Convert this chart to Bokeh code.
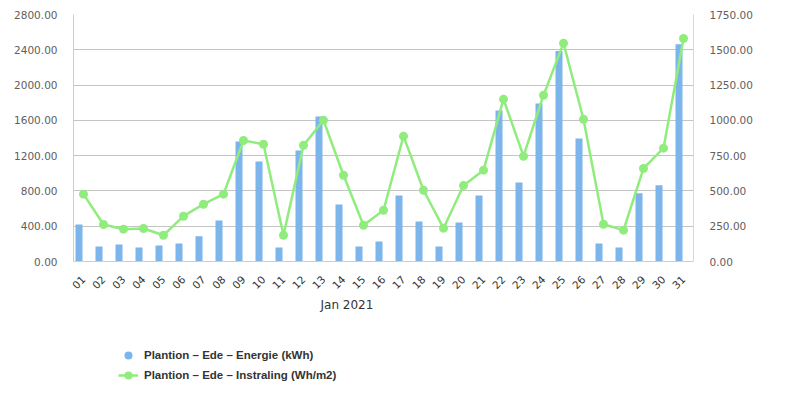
import math
from bokeh.plotting import figure
from bokeh.layouts import column
from bokeh.models import (Range1d, LinearAxis, FixedTicker, NumeralTickFormatter,
                          Legend, LegendItem, Title, ColumnDataSource)
from bokeh.transform import dodge
from bokeh.embed import file_html
from bokeh.resources import INLINE

days = ["01", "02", "03", "04", "05", "06", "07", "08", "09", "10", "11", "12", "13", "14", "15", "16",
        "17", "18", "19", "20", "21", "22", "23", "24", "25", "26", "27", "28", "29", "30", "31"]
energie = [420, 170, 193, 159, 181, 204, 285, 465, 1360, 1134, 160, 1259, 1644, 646, 170, 227,
           748, 454, 170, 442, 748, 1712, 896, 1792, 2385, 1395, 204, 159, 773, 864, 2462]
instraling = [477, 262, 229, 234, 186, 321, 406, 477, 857, 831, 186, 824, 1001, 611, 257, 363,
              888, 505, 236, 538, 647, 1150, 746, 1178, 1547, 1008, 264, 222, 659, 803, 1580]
left_ticks = [0, 400, 800, 1200, 1600, 2000, 2400, 2800]
right_ticks = [0, 250, 500, 750, 1000, 1250, 1500, 1750]
x_title = "Jan 2021"
name_bar = "Plantion – Ede – Energie (kWh)"
name_line = "Plantion – Ede – Instraling (Wh/m2)"

BAR_COLOR = "#7CB5EC"
LINE_COLOR = "#90ED7D"

idx = list(range(len(days)))
src = ColumnDataSource(dict(x=idx, e=energie, r=instraling))

FONT = "DejaVu Sans"
TICK_SIZE = "10.5px"
p = figure(frame_width=620, frame_height=247, min_border_left=73, min_border_right=94,
           min_border_top=14, min_border_bottom=69,
           x_range=Range1d(-0.5, len(days) - 0.5), y_range=Range1d(left_ticks[0], left_ticks[-1]),
           output_backend="svg", toolbar_location=None, tools="")
p.outline_line_color = None
p.background_fill_color = "white"
p.border_fill_color = "white"
p.extra_y_ranges = {"right": Range1d(right_ticks[0], right_ticks[-1])}

bars = p.vbar(x=dodge("x", -0.225), top="e", width=0.35, bottom=0, source=src,
              fill_color=BAR_COLOR, line_color=None)
line = p.line(x="x", y="r", source=src, y_range_name="right", line_color=LINE_COLOR, line_width=2.5)
pts = p.scatter(x="x", y="r", source=src, y_range_name="right", size=9, marker="circle",
                fill_color=LINE_COLOR, line_color=None)

# x axis
xa = p.xaxis[0]
xa.ticker = FixedTicker(ticks=idx)
xa.major_label_overrides = {i: d for i, d in zip(idx, days)}
xa.major_label_orientation = math.pi / 4
xa.major_tick_line_color = None
xa.major_tick_out = 0
xa.major_tick_in = 0
xa.minor_tick_line_color = None
xa.axis_line_color = "#C0D0E0"
xa.major_label_text_font = FONT
xa.major_label_text_font_size = TICK_SIZE
xa.major_label_text_color = "#333333"
xa.major_label_standoff = 16
p.xgrid.visible = False

ya = p.yaxis[0]
ya.ticker = FixedTicker(ticks=left_ticks)
ya.formatter = NumeralTickFormatter(format="0.00")
ya.major_tick_line_color = None
ya.major_tick_out = 0
ya.major_tick_in = 0
ya.minor_tick_line_color = None
ya.axis_line_color = "#C0D0E0"
ya.major_label_text_font = FONT
ya.major_label_text_font_size = TICK_SIZE
ya.major_label_text_color = "#606060"
ya.major_label_standoff = 16
p.ygrid.ticker = FixedTicker(ticks=left_ticks)
p.ygrid.grid_line_color = "#C4C4C4"

ra = LinearAxis(y_range_name="right", ticker=FixedTicker(ticks=right_ticks),
                formatter=NumeralTickFormatter(format="0.00"))
ra.major_tick_line_color = None
ra.major_tick_out = 0
ra.major_tick_in = 0
ra.minor_tick_line_color = None
ra.axis_line_color = "#D0D8E0"
ra.major_label_text_font = FONT
ra.major_label_text_font_size = TICK_SIZE
ra.major_label_text_color = "#606060"
ra.major_label_standoff = 16
p.add_layout(ra, "right")

t = Title(text=x_title, align="left", offset=247, text_font=FONT, text_font_size="12px",
          text_font_style="normal", text_color="#333333", standoff=0)
p.add_layout(t, "below")

# legend strip below the chart (legend swatches only; no data drawn here)
lg = figure(width=787, height=55, min_border=0, x_range=Range1d(0, 1), y_range=Range1d(0, 1),
            output_backend="svg", toolbar_location=None, tools="")
lg.axis.visible = False
lg.grid.visible = False
lg.outline_line_color = None
nan = [float("nan")]
lg_bar = lg.scatter(x=nan, y=nan, marker="circle", size=11, fill_color=BAR_COLOR, line_color=None)
lg_line = lg.line(x=nan, y=nan, line_color=LINE_COLOR, line_width=2.5)
lg_pts = lg.scatter(x=nan, y=nan, marker="circle", size=9, fill_color=LINE_COLOR, line_color=None)
legend = Legend(items=[LegendItem(label=name_bar, renderers=[lg_bar]),
                       LegendItem(label=name_line, renderers=[lg_line, lg_pts])],
                location=(45, 0.5), orientation="vertical",
                glyph_width=20, glyph_height=20, label_height=20, label_standoff=6,
                spacing=0, padding=0, margin=0, border_line_color=None,
                background_fill_alpha=0,
                label_text_font="Liberation Sans", label_text_font_style="bold",
                label_text_font_size="11.5px", label_text_color="#333333")
lg.add_layout(legend, "center")

layout = column(p, lg, spacing=0)
open("out.html", "w").write(file_html(layout, INLINE))
